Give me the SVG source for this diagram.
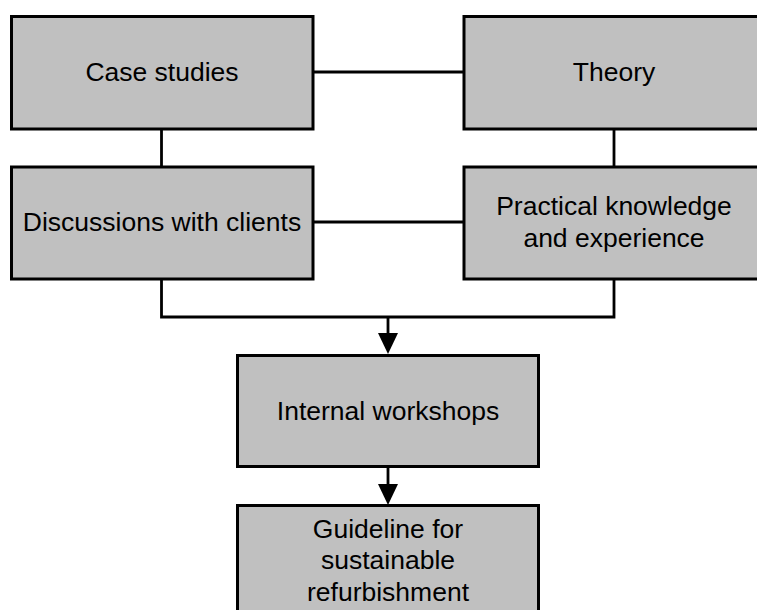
<svg xmlns="http://www.w3.org/2000/svg" width="757" height="610" viewBox="0 0 757 610">
<style>
.box{fill:#c0c0c0;stroke:#000;stroke-width:3}
.lbl{font-family:"Liberation Sans",Arial,sans-serif;font-size:26.5px;fill:#000;text-anchor:middle}
.con{fill:none;stroke:#000;stroke-width:2.8}
</style>
<defs>
<marker id="arr" markerUnits="userSpaceOnUse" markerWidth="22" markerHeight="22" viewBox="0 0 20 20" refX="10" refY="20" orient="auto-start-reverse">
<path d="M0,0 L20,0 L10,20 Z" fill="#000"/>
</marker>
</defs>
<rect width="757" height="610" fill="#fff"/>
<g id="connectors">
<line class="con" x1="313" y1="72" x2="464" y2="72"/>
<line class="con" x1="161.5" y1="129" x2="161.5" y2="167"/>
<line class="con" x1="614" y1="129" x2="614" y2="167"/>
<line class="con" x1="313" y1="222" x2="464" y2="222"/>
<polyline class="con" points="161.5,279 161.5,317 614,317 614,279"/>
<path d="M388,317 V333" class="con"/>
<path d="M378,333 H398 L388,354 Z" fill="#000"/>
<path d="M388,466.5 V484" class="con"/>
<path d="M378,484 H398 L388,505 Z" fill="#000"/>
</g>
<g id="case-studies">
<rect class="box" x="11.5" y="16.5" width="301.5" height="112.5"/>
<text class="lbl" x="162" y="81">Case studies</text>
</g>
<g id="theory">
<rect class="box" x="464" y="16.5" width="300" height="112.5"/>
<text class="lbl" x="614" y="81">Theory</text>
</g>
<g id="discussions">
<rect class="box" x="11.5" y="167" width="301.5" height="112"/>
<text class="lbl" x="162" y="231">Discussions with clients</text>
</g>
<g id="practical">
<rect class="box" x="464" y="167" width="300" height="112"/>
<text class="lbl" x="614" y="215">Practical knowledge</text>
<text class="lbl" x="614" y="246.5">and experience</text>
</g>
<g id="workshops">
<rect class="box" x="237.5" y="355.5" width="301" height="111"/>
<text class="lbl" x="388" y="420">Internal workshops</text>
</g>
<g id="guideline">
<rect class="box" x="237.5" y="505.5" width="301" height="111"/>
<text class="lbl" x="388" y="537.5">Guideline for</text>
<text class="lbl" x="388" y="569">sustainable</text>
<text class="lbl" x="388" y="600.5">refurbishment</text>
</g>
</svg>
